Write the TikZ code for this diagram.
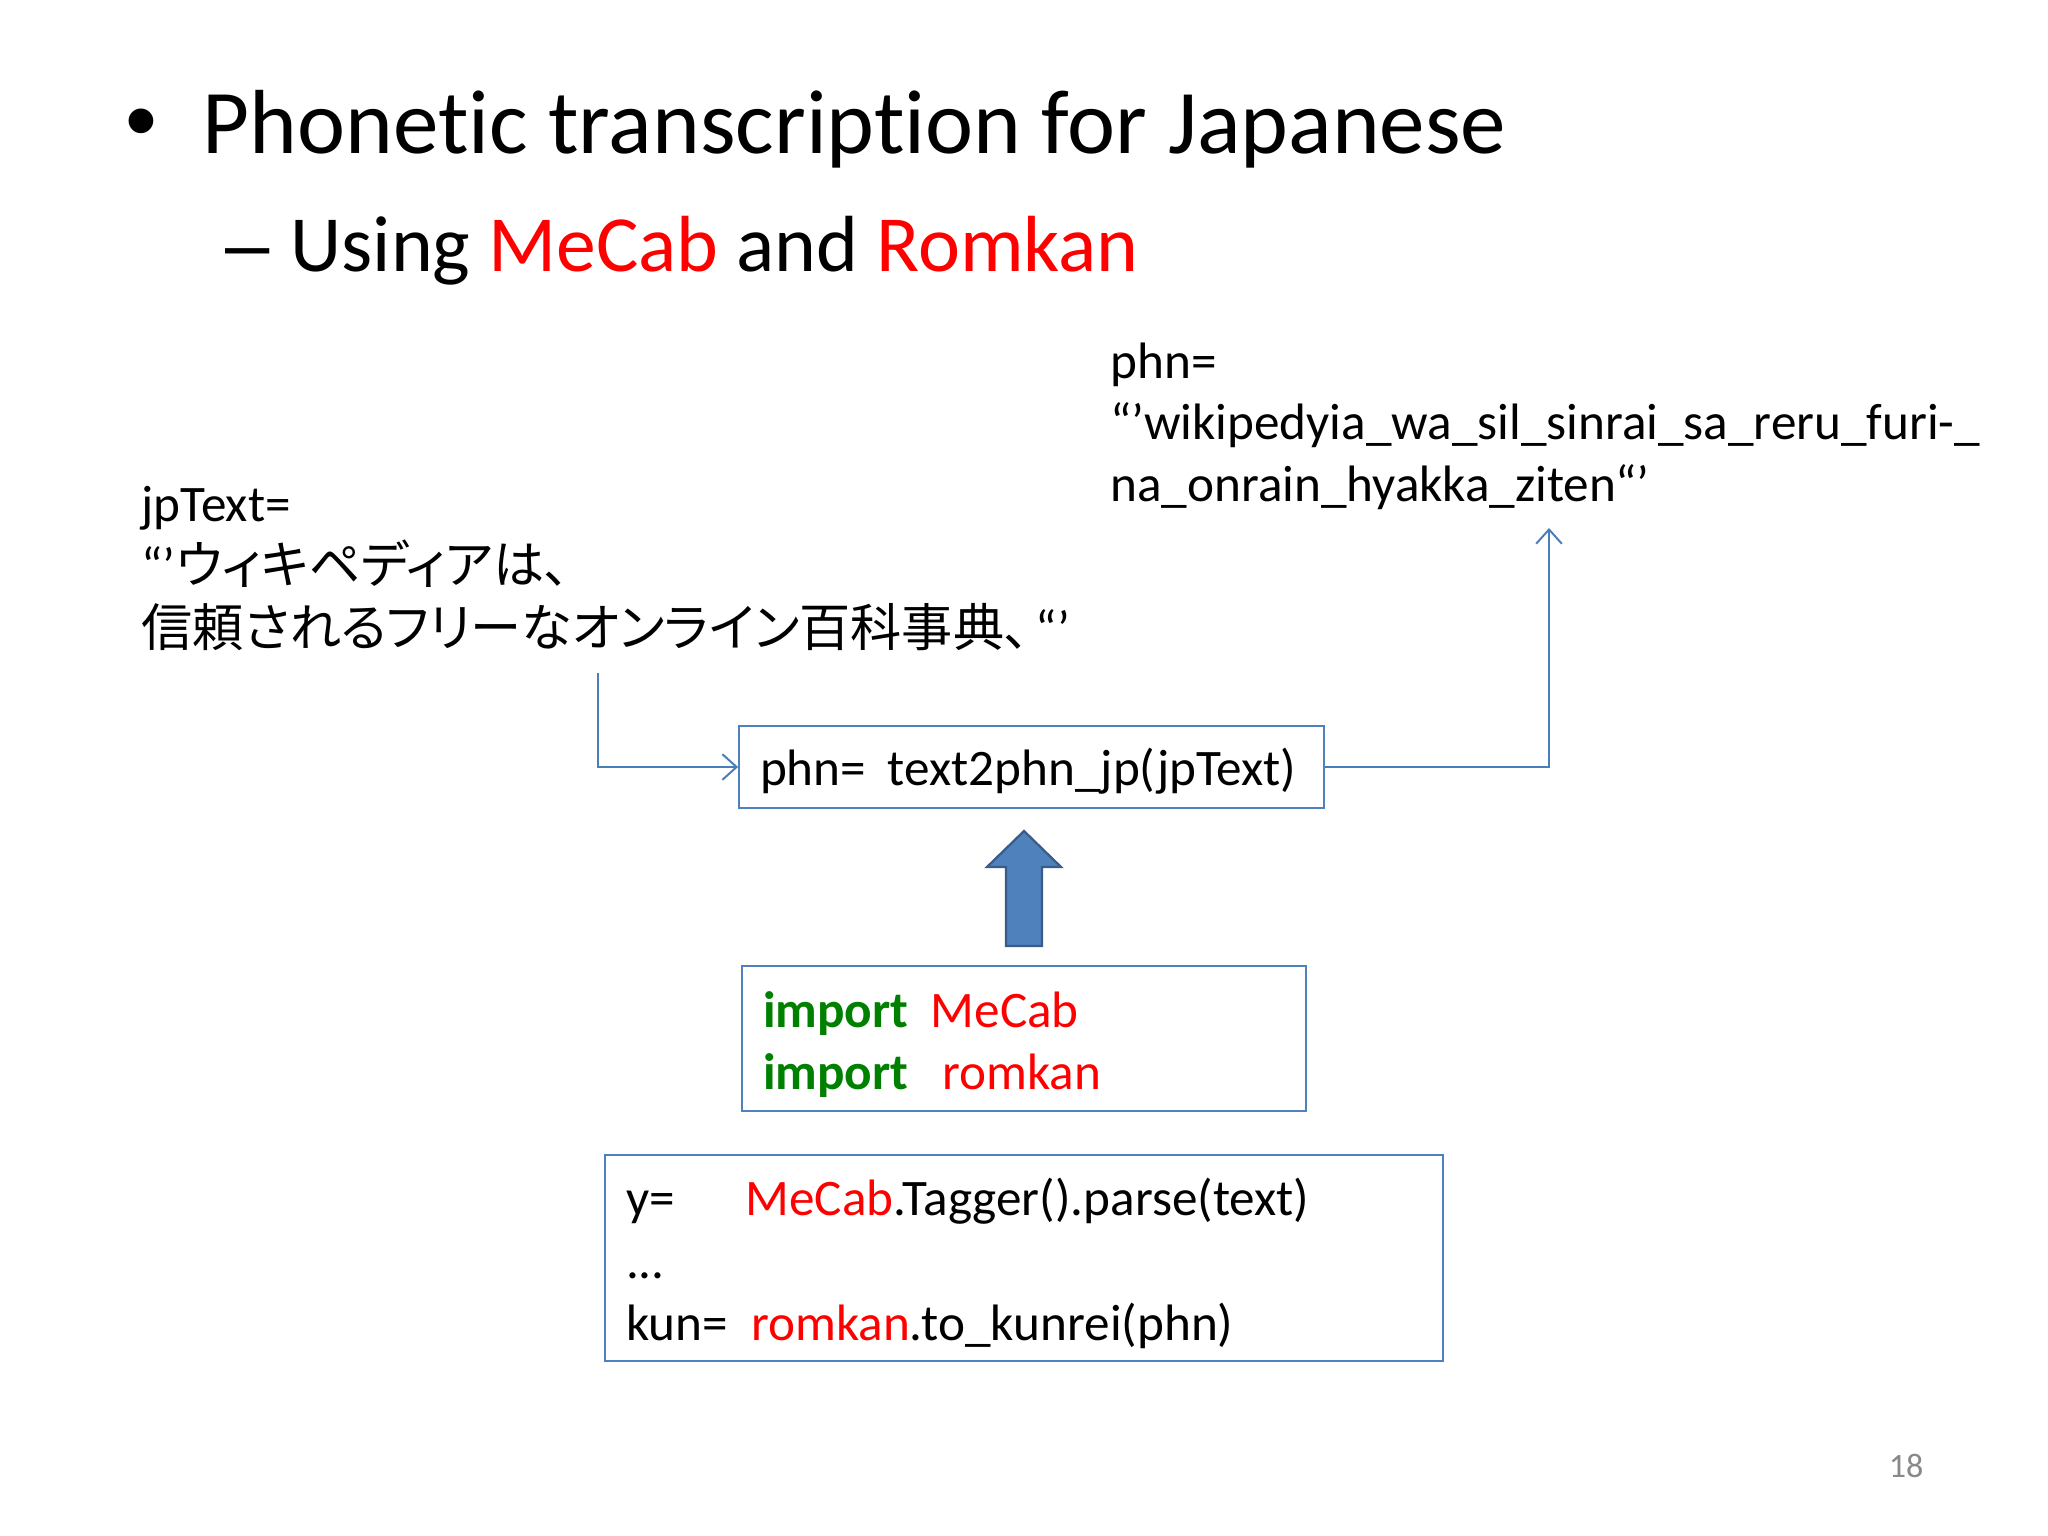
\documentclass[tikz,border=0pt]{standalone}
\usepackage{fontspec}
\setmainfont{Carlito}[Ligatures=NoCommon]
\newfontfamily\jp{Noto Sans CJK JP}[RawFeature=+palt]
\newfontfamily\arialish{Liberation Sans}
\usetikzlibrary{arrows.meta}
\definecolor{lineblue}{HTML}{4A7EBB}
\definecolor{boxblue}{HTML}{4F81BD}
\definecolor{arrowfill}{HTML}{4F81BD}
\definecolor{arrowdraw}{HTML}{385D8A}
\definecolor{kwgreen}{HTML}{008000}
\definecolor{idred}{HTML}{FF0000}
\definecolor{pggray}{HTML}{898989}
\begin{document}
\begin{tikzpicture}[x=0.3515625pt,y=-0.3515625pt,
  txt/.style={inner sep=0pt, anchor=base west, font=\fontsize{18}{21.6}\selectfont},
  ttl/.style={inner sep=0pt, anchor=base west, font=\fontsize{32}{38}\selectfont},
  sub/.style={inner sep=0pt, anchor=base west, font=\fontsize{28}{34}\selectfont},
  codebox/.style={draw=boxblue, line width=0.6pt, inner xsep=7.4pt, inner ysep=0pt, align=left},
  conn/.style={draw=lineblue, line width=0.7pt, -{Straight Barb[length=5pt,width=9pt]}},
  blockarrow/.style={fill=arrowfill, draw=arrowdraw, line width=0.8pt, line join=miter},
]
\useasboundingbox (0,0) rectangle (2048,1536);
% title
\node[ttl, font=\arialish\fontsize{32}{38}\selectfont] (bullet) at (125,152) {•};
\node[ttl] (title) at (202,154) {Phonetic transcription for Japanese};
\node[sub, font=\arialish\fontsize{28}{34}\selectfont] (dash) at (225,272) {–};
\node[sub] (subtitle) at (290,272) {Using \textcolor{idred}{MeCab} and \textcolor{idred}{Romkan}};
% output text
\node[txt] (phn1) at (1110,379) {phn=};
\node[txt] (phn2) at (1110,440) {“’wikipedyia\_wa\_sil\_sinrai\_sa\_reru\_furi-\_};
\node[txt] (phn3) at (1110,502) {na\_onrain\_hyakka\_ziten“’};
% input text
\node[txt] (jp1) at (141,522) {jpText=};
\node[txt] (jp2) at (141,584) {“’{\jp ウィキペディアは、}};
\node[txt] (jp3) at (141,646) {{\jp 信頼されるフリーなオンライン百科事典、}\hspace{2pt}“’};
% function box
\node[codebox, font=\fontsize{18}{21.6}\selectfont, minimum width=205.7pt, minimum height=28.8pt, text width=190.9pt, text height=16pt, text depth=3pt] (fbox) at (1031.5,767)
  {\makebox[45pt][l]{phn=}text2phn\_jp(jpText)};
% import box
\node[codebox, font=\fontsize{18}{22}\selectfont, minimum width=198.3pt, minimum height=51pt, text width=183.5pt] (ibox) at (1024,1038.5)
  {\rule{0pt}{17pt}\makebox[59pt][l]{\textbf{\textcolor{kwgreen}{import}}}\textcolor{idred}{MeCab}\\
   \makebox[63pt][l]{\textbf{\textcolor{kwgreen}{import}}}\textcolor{idred}{romkan}};
% code box
\node[codebox, font=\fontsize{18}{22}\selectfont, minimum width=294.6pt, minimum height=72.4pt, text width=279.8pt] (cbox) at (1024,1258)
  {\rule{0pt}{17pt}\makebox[42pt][l]{y=}\textcolor{idred}{MeCab}.Tagger().parse(text)\\
   ...\\
   \makebox[44pt][l]{kun=}\textcolor{idred}{romkan}.to\_kunrei(phn)};
% connectors
\coordinate (jpout) at (598,673);
\coordinate (phnin) at (1549,528);
\draw[conn] (jpout) |- (fbox.west);
\draw[conn] (fbox.east) -| (phnin);
% block arrow
\draw[blockarrow] (1024,831) -- (1061,867) -- (1042,867) -- (1042,946) -- (1006,946) -- (1006,867) -- (987,867) -- cycle;
% page number
\node[inner sep=0pt, anchor=base east, font=\fontsize{12}{14}\selectfont, text=pggray] (pagenum) at (1924,1477) {18};
\end{tikzpicture}
\end{document}
